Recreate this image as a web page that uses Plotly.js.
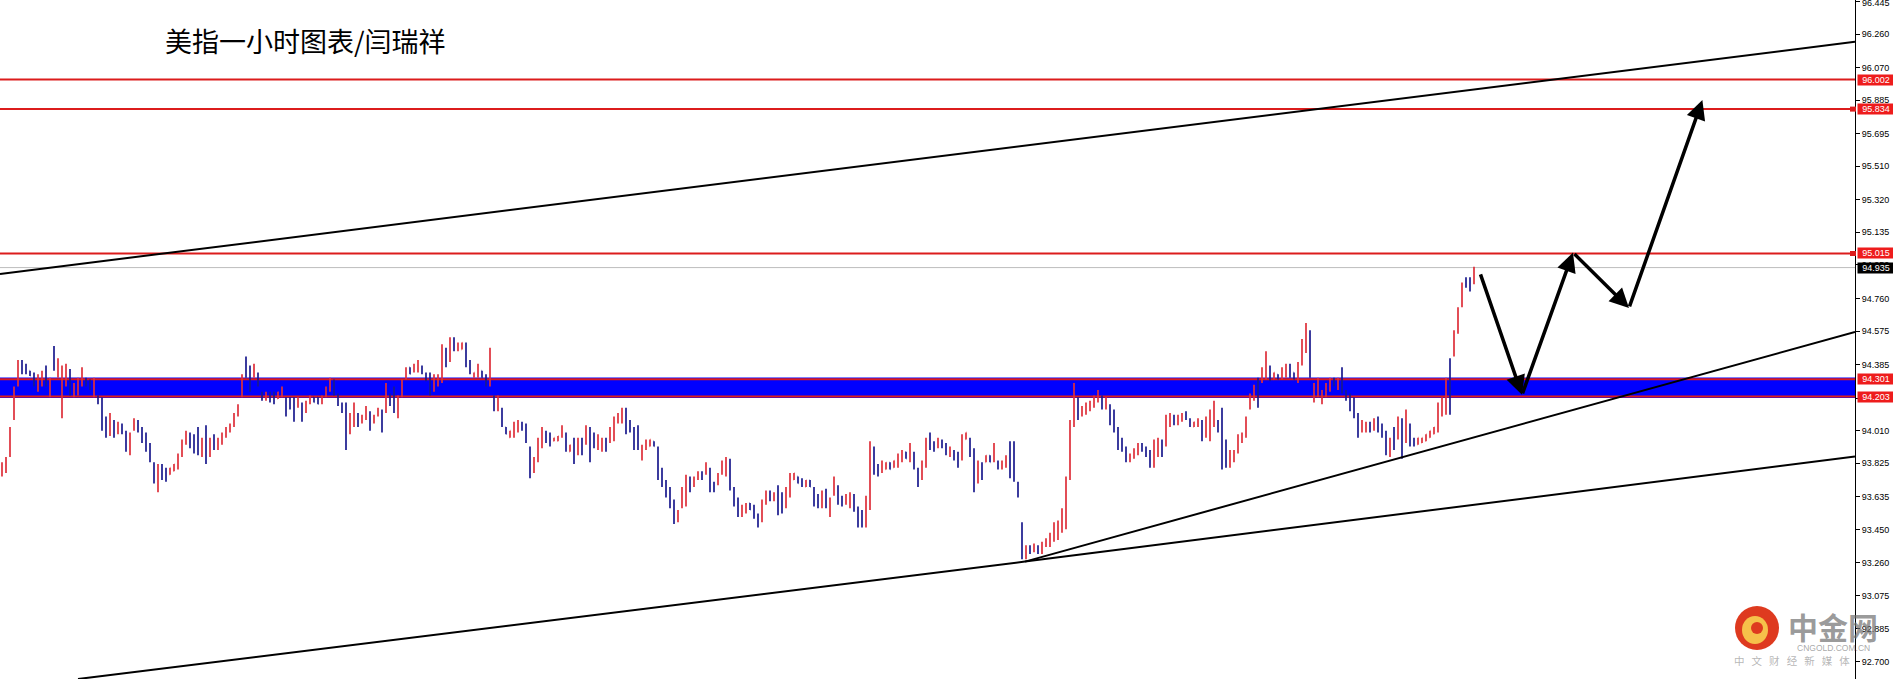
<!DOCTYPE html>
<html>
<head>
<meta charset="utf-8">
<script src="https://cdn.plot.ly/plotly-3.0.1.min.js"></script>
<style>
html,body{margin:0;padding:0;background:#fff;}
#chart{width:1893px;height:679px;}
</style>
</head>
<body>
<div id="chart"></div>
<script>
// ---- hourly bars of the US dollar index ----
const open = [93.76,93.78,93.87,94.08,94.27,94.40,94.38,94.35,94.33,94.24,94.27,94.37,94.21,94.48,94.32,94.09,94.27,94.35,94.21,94.22,
94.27,94.30,94.29,94.21,94.20,94.19,94.08,93.99,94.06,94.00,94.04,94.00,93.88,94.02,94.06,94.02,93.99,93.93,93.82,93.67,
93.81,93.79,93.76,93.78,93.80,93.87,93.94,93.99,93.98,94.02,93.87,94.03,93.87,93.98,93.91,93.94,93.98,94.01,94.04,94.10,
94.21,94.42,94.37,94.32,94.33,94.22,94.19,94.22,94.22,94.19,94.21,94.19,94.19,94.19,94.15,94.16,94.12,94.17,94.20,94.20,
94.17,94.21,94.24,94.29,94.21,94.16,94.16,94.00,94.04,94.10,94.06,94.08,94.11,94.06,94.10,94.12,94.12,94.21,94.25,94.09,
94.21,94.31,94.37,94.35,94.35,94.37,94.33,94.33,94.24,94.27,94.29,94.47,94.41,94.53,94.47,94.47,94.50,94.40,94.31,94.32,
94.35,94.32,94.27,94.20,94.13,94.13,94.03,93.97,93.98,94.01,94.05,94.04,93.91,93.78,93.84,93.92,94.00,93.99,93.95,93.95,
93.98,93.99,93.89,93.96,93.88,93.96,93.94,94.02,93.99,93.91,93.90,93.96,93.95,93.96,94.06,94.06,94.13,94.06,94.02,94.03,
93.85,93.91,93.92,93.95,93.91,93.79,93.72,93.68,93.61,93.50,93.58,93.59,93.74,93.70,93.74,93.77,93.77,93.79,93.71,93.71,
93.77,93.76,93.84,93.68,93.62,93.53,93.55,93.60,93.58,93.53,93.50,93.60,93.66,93.62,93.69,93.65,93.58,93.64,93.73,93.75,
93.73,93.69,93.73,93.68,93.64,93.58,93.67,93.53,93.65,93.69,93.63,93.60,93.58,93.64,93.57,93.55,93.47,93.57,93.91,93.81,
93.78,93.79,93.83,93.80,93.81,93.84,93.89,93.84,93.88,93.79,93.74,93.81,93.99,93.94,93.92,93.95,93.93,93.87,93.89,93.88,
93.85,93.96,93.96,93.90,93.72,93.82,93.83,93.87,93.84,93.83,93.80,93.81,93.94,93.94,93.71,93.48,93.29,93.35,93.33,93.35,
93.32,93.36,93.36,93.39,93.40,93.44,93.46,93.74,94.04,94.19,94.10,94.11,94.13,94.15,94.18,94.20,94.14,94.15,94.12,94.02,
93.96,93.91,93.84,93.86,93.88,93.93,93.91,93.89,93.81,93.87,93.95,93.93,94.04,94.09,94.05,94.07,94.11,94.07,94.03,94.04,
94.06,93.98,93.96,94.04,94.06,94.13,93.95,93.81,93.84,93.89,93.95,93.98,94.14,94.19,94.30,94.29,94.31,94.37,94.30,94.33,
94.31,94.32,94.38,94.34,94.29,94.39,94.46,94.57,94.18,94.21,94.17,94.21,94.24,94.30,94.25,94.36,94.23,94.21,94.19,94.10,
94.01,94.01,94.05,94.02,94.08,94.04,94.00,93.87,94.02,93.97,94.07,93.95,94.04,93.96,93.93,93.94,93.95,93.97,93.99,94.01,
94.10,94.11,94.41,94.44,94.57,94.72,94.87,94.87,94.85];
const high = [93.83,93.86,94.03,94.26,94.41,94.41,94.39,94.35,94.34,94.33,94.35,94.38,94.31,94.49,94.42,94.38,94.39,94.36,94.28,94.31,
94.37,94.31,94.30,94.31,94.21,94.20,94.09,94.11,94.07,94.06,94.05,94.01,94.00,94.08,94.07,94.03,94.00,93.94,93.83,93.82,
93.82,93.80,93.80,93.82,93.88,93.96,94.01,94.00,93.99,94.03,93.97,94.04,93.97,93.99,93.97,94.00,94.03,94.05,94.11,94.16,
94.33,94.43,94.38,94.39,94.34,94.23,94.23,94.23,94.23,94.23,94.26,94.20,94.20,94.20,94.20,94.17,94.18,94.21,94.20,94.20,
94.21,94.26,94.31,94.30,94.22,94.17,94.17,94.11,94.17,94.11,94.10,94.15,94.12,94.10,94.14,94.13,94.28,94.22,94.26,94.21,
94.30,94.37,94.37,94.39,94.41,94.38,94.34,94.34,94.33,94.33,94.50,94.48,94.54,94.54,94.51,94.51,94.51,94.41,94.34,94.39,
94.35,94.33,94.48,94.21,94.21,94.14,94.03,94.01,94.06,94.07,94.06,94.05,93.92,93.86,93.97,94.03,94.01,94.00,93.97,93.98,
94.04,94.00,93.93,93.97,93.97,93.97,94.04,94.03,94.00,93.99,93.97,93.97,94.03,94.09,94.11,94.14,94.14,94.07,94.03,94.04,
93.93,93.96,93.96,93.95,93.92,93.80,93.73,93.69,93.62,93.56,93.69,93.76,93.75,93.75,93.78,93.78,93.83,93.80,93.72,93.77,
93.84,93.86,93.85,93.69,93.63,93.59,93.60,93.60,93.59,93.54,93.62,93.67,93.67,93.66,93.70,93.66,93.69,93.77,93.77,93.75,
93.74,93.73,93.73,93.69,93.65,93.67,93.68,93.63,93.75,93.70,93.64,93.65,93.66,93.65,93.58,93.56,93.64,93.95,93.92,93.82,
93.84,93.83,93.83,93.84,93.88,93.90,93.89,93.94,93.89,93.80,93.84,93.97,94.00,93.95,93.97,93.96,93.94,93.92,93.90,93.89,
93.99,94.00,93.97,93.91,93.84,93.83,93.87,93.87,93.94,93.84,93.84,93.87,93.95,93.95,93.72,93.49,93.36,93.36,93.37,93.36,
93.38,93.40,93.43,93.49,93.50,93.57,93.75,94.07,94.28,94.20,94.15,94.17,94.18,94.21,94.24,94.21,94.20,94.16,94.13,94.03,
93.97,93.92,93.88,93.91,93.94,93.94,93.92,93.90,93.96,93.97,93.96,94.10,94.11,94.10,94.10,94.11,94.12,94.08,94.06,94.08,
94.07,94.09,94.13,94.18,94.07,94.14,93.96,93.90,93.90,93.99,94.00,94.09,94.22,94.27,94.31,94.37,94.46,94.38,94.34,94.33,
94.37,94.39,94.39,94.34,94.40,94.53,94.62,94.58,94.28,94.31,94.24,94.28,94.31,94.31,94.31,94.37,94.24,94.22,94.20,94.11,
94.07,94.06,94.06,94.08,94.09,94.05,94.01,93.97,94.03,94.09,94.08,94.13,94.05,93.97,93.97,93.97,93.99,94.01,94.03,94.17,
94.20,94.31,94.42,94.58,94.71,94.85,94.88,94.88,94.94];
const low = [93.75,93.77,93.86,94.07,94.26,94.33,94.33,94.32,94.26,94.23,94.26,94.26,94.20,94.35,94.31,94.08,94.26,94.21,94.20,94.21,
94.26,94.26,94.24,94.20,94.16,94.01,93.97,93.98,93.97,93.99,93.99,93.89,93.87,94.01,94.00,93.94,93.89,93.83,93.71,93.66,
93.73,93.72,93.76,93.78,93.79,93.86,93.93,93.91,93.88,93.87,93.86,93.82,93.86,93.90,93.90,93.93,93.97,94.00,94.03,94.09,
94.20,94.31,94.23,94.31,94.26,94.18,94.18,94.17,94.16,94.19,94.20,94.09,94.13,94.06,94.14,94.06,94.11,94.16,94.17,94.16,
94.16,94.20,94.23,94.21,94.15,94.11,93.90,93.99,94.03,94.03,94.05,94.07,94.01,94.05,94.09,94.00,94.11,94.15,94.11,94.08,
94.20,94.30,94.33,94.34,94.34,94.33,94.29,94.21,94.23,94.26,94.28,94.37,94.40,94.46,94.46,94.47,94.37,94.33,94.31,94.31,
94.31,94.26,94.26,94.12,94.12,94.03,93.99,93.97,93.97,94.00,94.01,93.94,93.74,93.77,93.83,93.91,93.94,93.92,93.95,93.95,
93.97,93.89,93.89,93.82,93.87,93.87,93.93,93.83,93.91,93.90,93.89,93.89,93.94,93.95,94.05,94.05,93.99,94.00,93.90,93.90,
93.84,93.90,93.92,93.92,93.73,93.69,93.63,93.57,93.48,93.49,93.57,93.58,93.66,93.69,93.73,93.73,93.76,93.66,93.66,93.70,
93.76,93.75,93.67,93.58,93.52,93.52,93.54,93.56,93.51,93.46,93.49,93.59,93.61,93.61,93.53,93.54,93.57,93.63,93.73,93.71,
93.69,93.69,93.69,93.58,93.57,93.57,93.57,93.52,93.64,93.59,93.58,93.59,93.57,93.55,93.46,93.46,93.46,93.56,93.76,93.75,
93.77,93.79,93.79,93.80,93.80,93.83,93.85,93.83,93.79,93.69,93.73,93.80,93.90,93.89,93.91,93.91,93.87,93.86,93.84,93.80,
93.84,93.96,93.86,93.66,93.71,93.73,93.83,93.83,93.83,93.79,93.79,93.80,93.74,93.72,93.63,93.28,93.28,93.31,93.32,93.31,
93.31,93.35,93.35,93.38,93.39,93.43,93.45,93.73,94.03,94.07,94.09,94.10,94.12,94.14,94.17,94.13,94.13,94.04,94.00,93.90,
93.89,93.83,93.83,93.85,93.87,93.89,93.86,93.80,93.80,93.86,93.86,93.92,94.03,94.04,94.04,94.06,94.07,94.03,94.03,94.03,
93.95,93.97,93.95,94.03,94.00,93.79,93.80,93.80,93.83,93.88,93.94,93.97,94.13,94.18,94.14,94.28,94.30,94.29,94.30,94.30,
94.30,94.31,94.31,94.30,94.28,94.38,94.45,94.31,94.17,94.20,94.16,94.20,94.23,94.26,94.24,94.22,94.18,94.12,94.08,93.97,
94.00,94.00,94.00,94.01,94.00,93.97,93.87,93.86,93.90,93.96,93.85,93.94,93.92,93.92,93.93,93.94,93.95,93.97,93.99,94.00,
94.09,94.10,94.10,94.43,94.56,94.71,94.82,94.80,94.84];
const close = [93.82,93.85,94.02,94.25,94.40,94.34,94.34,94.32,94.27,94.32,94.34,94.27,94.30,94.36,94.41,94.37,94.38,94.22,94.27,94.30,
94.36,94.27,94.25,94.30,94.17,94.02,93.98,94.10,93.98,94.05,94.00,93.90,93.99,94.07,94.01,93.95,93.90,93.84,93.72,93.81,
93.74,93.73,93.80,93.82,93.87,93.95,94.00,93.92,93.89,93.88,93.96,93.83,93.96,93.91,93.96,93.99,94.02,94.04,94.10,94.15,
94.32,94.32,94.24,94.38,94.27,94.19,94.22,94.18,94.17,94.23,94.25,94.10,94.14,94.07,94.19,94.07,94.17,94.20,94.17,94.16,
94.20,94.25,94.30,94.22,94.16,94.12,93.91,94.10,94.16,94.04,94.09,94.14,94.02,94.09,94.13,94.01,94.27,94.16,94.12,94.20,
94.29,94.36,94.33,94.38,94.40,94.34,94.30,94.22,94.32,94.32,94.49,94.38,94.53,94.47,94.50,94.51,94.38,94.34,94.34,94.38,
94.31,94.27,94.47,94.13,94.20,94.04,93.99,94.01,94.05,94.06,94.02,93.95,93.75,93.85,93.96,94.02,93.95,93.93,93.97,93.98,
94.03,93.90,93.93,93.83,93.96,93.88,94.03,93.84,93.92,93.98,93.96,93.90,94.02,94.08,94.10,94.13,94.00,94.01,93.91,93.91,
93.92,93.95,93.96,93.92,93.74,93.70,93.64,93.58,93.49,93.55,93.68,93.75,93.67,93.74,93.77,93.74,93.82,93.67,93.67,93.76,
93.83,93.85,93.68,93.59,93.53,93.58,93.59,93.56,93.52,93.47,93.61,93.66,93.62,93.65,93.54,93.55,93.68,93.76,93.77,93.71,
93.70,93.73,93.69,93.59,93.58,93.66,93.58,93.62,93.74,93.60,93.59,93.64,93.65,93.56,93.47,93.47,93.63,93.94,93.77,93.76,
93.83,93.83,93.79,93.84,93.87,93.89,93.85,93.93,93.80,93.70,93.83,93.96,93.91,93.90,93.96,93.92,93.88,93.91,93.85,93.81,
93.98,94.00,93.87,93.67,93.83,93.74,93.87,93.83,93.93,93.80,93.83,93.86,93.75,93.73,93.64,93.29,93.35,93.32,93.36,93.32,
93.37,93.39,93.42,93.48,93.49,93.56,93.74,94.06,94.27,94.08,94.14,94.16,94.17,94.20,94.23,94.14,94.19,94.05,94.01,93.91,
93.90,93.84,93.87,93.90,93.93,93.90,93.87,93.81,93.95,93.96,93.87,94.09,94.10,94.05,94.09,94.10,94.08,94.04,94.06,94.07,
93.96,94.08,94.12,94.17,94.01,93.80,93.81,93.89,93.89,93.98,93.99,94.08,94.21,94.26,94.15,94.36,94.45,94.30,94.34,94.30,
94.36,94.38,94.32,94.30,94.39,94.52,94.61,94.32,94.27,94.30,94.23,94.27,94.30,94.27,94.30,94.23,94.19,94.13,94.09,93.98,
94.06,94.05,94.01,94.07,94.01,93.98,93.88,93.96,93.91,94.08,93.86,94.12,93.93,93.93,93.97,93.97,93.99,94.01,94.03,94.16,
94.19,94.30,94.11,94.57,94.70,94.84,94.83,94.81,94.935];

// ---- levels, right-axis ticks and drawn objects ----
const yTicks = [96.445,96.260,96.070,95.885,95.695,95.510,95.320,95.135,94.950,94.760,94.575,94.385,94.195,94.010,93.825,93.635,93.450,93.260,93.075,92.885,92.700];
const redLevels = [96.002, 95.834, 95.015, 94.301, 94.203];
const markedLevels = [95.834, 95.015];
const lastPrice = 94.935;
const zoneBounds = [94.195, 94.312];
// trend lines: [bar0, price0, bar1, price1]
const trendLines = [
  [-0.5, 94.899, 463.25, 96.216],
  [19, 92.601, 255.75, 93.267],
  [255.75, 93.267, 463.25, 93.863],
  [255.75, 93.267, 463.25, 94.570]
];
// forecast path drawn with arrows
const pathBars   = [369.5, 380, 392.75, 406.75, 425.1];
const pathPrices = [94.905, 94.213, 95.02, 94.706, 95.885];
const titleText = '美指一小时图表/闫瑞祥';

const xIdx = high.map((_, i) => i);
const PW = 1855; // plot width in px (for paper positions of texts)
const PH = 679;
const px = v => v / PW;
const py = v => 1 - v / PH;
const axisFont = {family: 'Liberation Sans', size: 9, color: '#000'};

const trace = {
  type: 'ohlc',
  x: xIdx, open: open, high: high, low: low, close: close,
  increasing: {line: {color: '#de2f3a', width: 1.7}},
  decreasing: {line: {color: '#1a1a8e', width: 1.7}},
  tickwidth: 0.08,
  hoverinfo: 'skip',
  showlegend: false
};

const shapes = [];
shapes.push({type: 'rect', xref: 'paper', x0: 0, x1: 1, yref: 'y', y0: zoneBounds[0], y1: zoneBounds[1],
  fillcolor: '#0000ff', line: {width: 0}, layer: 'below'});
redLevels.forEach(v => shapes.push({type: 'line', xref: 'paper', x0: 0, x1: 1, yref: 'y', y0: v, y1: v,
  line: {color: '#dc1c1c', width: 2}, layer: 'below'}));
markedLevels.forEach(v => shapes.push({type: 'rect', xref: 'paper', x0: px(1850), x1: px(1856),
  yref: 'y', ysizemode: 'pixel', yanchor: v, y0: -2.5, y1: 2.5, fillcolor: '#dc1c1c', line: {width: 0}}));
shapes.push({type: 'line', xref: 'paper', x0: 0, x1: 1, yref: 'y', y0: lastPrice, y1: lastPrice,
  line: {color: '#bdbdbd', width: 1}, layer: 'below'});
trendLines.forEach(t => shapes.push({type: 'line', xref: 'x', yref: 'y', x0: t[0], y0: t[1], x1: t[2], y1: t[3],
  line: {color: '#000000', width: 2}}));
// watermark logo
shapes.push({type: 'circle', xref: 'paper', yref: 'paper', x0: px(1735), x1: px(1779), y0: py(650), y1: py(606),
  fillcolor: '#de3a1f', line: {width: 0}});
shapes.push({type: 'circle', xref: 'paper', yref: 'paper', x0: px(1742), x1: px(1768), y0: py(644), y1: py(616),
  fillcolor: '#f6c14a', line: {width: 0}});
shapes.push({type: 'circle', xref: 'paper', yref: 'paper', x0: px(1751), x1: px(1763), y0: py(634), y1: py(622),
  fillcolor: '#de3a1f', line: {width: 0}});

const annotations = [];
annotations.push({xref: 'paper', yref: 'paper', x: px(163), y: py(40), xanchor: 'left', yanchor: 'middle',
  text: titleText, showarrow: false, font: {family: 'Noto Sans CJK SC', size: 27, color: '#000'}});
// top tick label, partly cut by the top edge as in the picture
annotations.push({xref: 'paper', yref: 'y', x: 1, y: yTicks[0], xanchor: 'left', yanchor: 'middle',
  xshift: 5, yshift: -2, text: yTicks[0].toFixed(3), showarrow: false, font: axisFont});
redLevels.forEach(v => annotations.push({xref: 'paper', yref: 'y', x: 1, y: v, xanchor: 'left', yanchor: 'middle',
  xshift: 2, text: v.toFixed(3), showarrow: false, bgcolor: '#ee1c1c', width: 36, height: 10, borderpad: 0,
  font: {family: 'Liberation Sans', size: 9, color: '#fff'}}));
annotations.push({xref: 'paper', yref: 'y', x: 1, y: lastPrice, xanchor: 'left', yanchor: 'middle',
  xshift: 2, text: lastPrice.toFixed(3), showarrow: false, bgcolor: '#000', width: 36, height: 10, borderpad: 0,
  font: {family: 'Liberation Sans', size: 9, color: '#fff'}});
for (let k = 1; k < pathBars.length; k++) {
  annotations.push({xref: 'x', yref: 'y', axref: 'x', ayref: 'y',
    x: pathBars[k], y: pathPrices[k], ax: pathBars[k-1], ay: pathPrices[k-1],
    text: '', showarrow: true, arrowhead: 2, arrowsize: 1.1, arrowwidth: 3.5, arrowcolor: '#000', standoff: 0, startstandoff: 0});
}
// watermark texts
annotations.push({xref: 'paper', yref: 'paper', x: px(1833), y: py(626), xanchor: 'center', yanchor: 'middle',
  text: '<b>中金网</b>', showarrow: false, font: {family: 'Noto Sans CJK SC', size: 30, color: 'rgba(110,110,110,0.7)'}});
annotations.push({xref: 'paper', yref: 'paper', x: px(1833), y: py(648), xanchor: 'center', yanchor: 'middle',
  text: 'CNGOLD.COM.CN', showarrow: false, font: {family: 'Liberation Sans', size: 8.5, color: 'rgba(130,130,130,0.7)'}});
annotations.push({xref: 'paper', yref: 'paper', x: px(1792), y: py(660), xanchor: 'center', yanchor: 'middle',
  text: '中&nbsp;&nbsp;&nbsp;文&nbsp;&nbsp;&nbsp;财&nbsp;&nbsp;&nbsp;经&nbsp;&nbsp;&nbsp;新&nbsp;&nbsp;&nbsp;媒&nbsp;&nbsp;&nbsp;体',
  showarrow: false, font: {family: 'Noto Sans CJK SC', size: 10.5, color: 'rgba(150,150,150,0.7)'}});

const layout = {
  width: 1893, height: 679,
  margin: {l: 0, r: 38, t: 0, b: 0, pad: 0},
  paper_bgcolor: '#ffffff', plot_bgcolor: '#ffffff',
  showlegend: false,
  xaxis: {range: [-0.5, 463.25], visible: false, showgrid: false, zeroline: false,
    rangeslider: {visible: false}, fixedrange: true},
  yaxis: {side: 'right', range: [92.601, 96.453], tickvals: yTicks, tickformat: '.3f',
    ticks: 'outside', ticklen: 4, tickcolor: '#000', showline: true, linecolor: '#000', linewidth: 1,
    showgrid: false, zeroline: false, fixedrange: true, tickfont: axisFont},
  shapes: shapes,
  annotations: annotations
};

Plotly.newPlot('chart', [trace], layout, {staticPlot: true, displayModeBar: false});
</script>
</body>
</html>
